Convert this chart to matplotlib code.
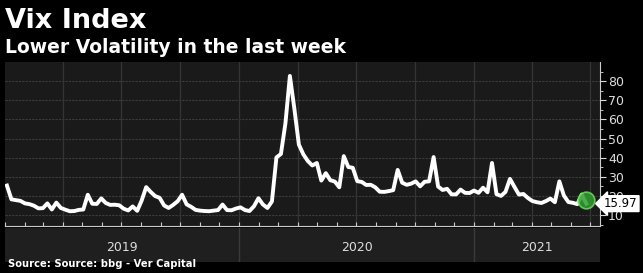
import numpy as np
import pandas as pd
import matplotlib
matplotlib.use("Agg")
import matplotlib.pyplot as plt
import matplotlib.dates as mdates

# weekly VIX readings, first Friday of 2019 onwards
vix_2019 = [25.4, 18.2, 17.8, 17.4, 16.1, 15.7, 14.9, 13.5, 13.6, 16.1, 12.9, 16.5, 13.7,
            12.8, 12.0, 12.1, 12.7, 12.9, 20.6, 15.9, 15.8, 18.7, 16.3, 15.3, 15.4, 15.1,
            13.3, 12.4, 14.5, 12.2, 17.6, 24.6, 22.1, 19.9, 19.0, 15.0, 13.7, 15.3, 17.2,
            20.6, 15.6, 14.3, 12.7, 12.3, 12.1, 12.0, 12.3, 12.6, 15.5, 12.6, 12.5, 13.4]
vix_2020 = [14.0, 12.6, 12.1, 14.6, 18.8, 15.5, 13.7, 17.1, 40.1, 41.9, 57.8, 82.7, 65.5,
            46.8, 41.7, 38.2, 35.9, 37.2, 28.0, 31.9, 28.2, 27.5, 24.5, 40.8, 35.1, 34.7,
            27.7, 27.3, 25.7, 25.8, 24.5, 22.2, 22.1, 22.5, 23.0, 33.6, 26.9, 25.8, 26.4,
            27.6, 25.0, 27.4, 27.6, 40.3, 24.9, 23.1, 23.7, 20.8, 20.8, 23.3, 21.6, 21.5]
vix_2021 = [22.8, 21.6, 24.3, 21.9, 37.2, 20.9, 20.0, 22.1, 28.9, 24.7, 20.7, 21.0, 18.9,
            17.3, 16.7, 16.3, 17.3, 18.6, 16.7, 27.6, 20.2, 16.8, 16.4, 15.7, 20.7, 15.97]

vix = vix_2019 + vix_2020 + vix_2021
fechas = pd.date_range("2019-01-04", periods=len(vix), freq="W-FRI")
ultimo = vix[-1]

anios = ["2019", "2020", "2021"]
yticks = [10, 20, 30, 40, 50, 60, 70, 80]

xmin = pd.Timestamp("2019-01-01")
xmax = pd.Timestamp("2021-07-16")

fig = plt.figure(figsize=(6.43, 2.73), dpi=100, facecolor="black")

ax = fig.add_axes([0.0078, 0.172, 0.925, 0.601], facecolor="#1a1a1a")
ax.plot(fechas, vix, color="white", lw=2.8, solid_joinstyle="round", zorder=3)
ax.plot(fechas[-1], ultimo + 2, "o", ms=12, mfc="#2f9e2f", mec="#6bdc5c", mew=1.2,
        alpha=0.85, zorder=4)
ax.set_xlim(xmin, xmax)
ax.set_ylim(4.25, 90)

# grid
for y in yticks:
    ax.axhline(y, color="#3c3c3c", lw=0.8, ls=(0, (2, 1)), zorder=1)
for q in pd.date_range("2019-04-01", xmax, freq="QS"):
    ax.axvline(q, color="#353535", lw=0.9, zorder=1)

ax.yaxis.tick_right()
ax.set_yticks(yticks)
ax.set_yticks(np.arange(5, 90, 5), minor=True)
ax.tick_params(axis="y", which="both", colors="#dddddd", labelsize=9, direction="out",
               length=4, pad=2)
ax.tick_params(axis="y", which="minor", length=2)
ax.xaxis.set_major_locator(mdates.MonthLocator())
ax.tick_params(axis="x", which="both", direction="in", length=3, colors="#cccccc",
               labelbottom=False)
for s in ["top", "left"]:
    ax.spines[s].set_visible(False)
ax.spines["right"].set_color("#cccccc")
ax.spines["bottom"].set_color("#cccccc")

ax.annotate(f"{ultimo:.2f}", xy=(1.0, ultimo), xycoords=("axes fraction", "data"),
            xytext=(3, 0), textcoords="offset points", va="center", ha="left",
            fontsize=8.5, color="black", zorder=6,
            bbox=dict(boxstyle="larrow,pad=0.12", fc="white", ec="white"))

# year band
ax2 = fig.add_axes([0.0078, 0.04, 0.925, 0.125], facecolor="#1f1f1f")
ax2.set_xlim(xmin, xmax)
ax2.set_ylim(0, 1)
for a in anios:
    ini = max(pd.Timestamp(a + "-01-01"), xmin)
    fin = min(pd.Timestamp(str(int(a) + 1) + "-01-01"), xmax)
    ax2.text(ini + (fin - ini) / 2, 0.42, a, ha="center", va="center", color="#dddddd",
             fontsize=9)
    if ini > xmin:
        ax2.axvline(ini, color="#3a3a3a", lw=1)
ax2.set_xticks([])
ax2.set_yticks([])
for s in ax2.spines.values():
    s.set_visible(False)

fig.text(0.008, 0.897, "Vix Index", color="white", fontsize=19.5, fontweight="bold",
         va="baseline", ha="left")
fig.text(0.008, 0.806, "Lower Volatility in the last week", color="white", fontsize=13.5,
         fontweight="bold", va="baseline", ha="left")
fig.text(0.012, 0.022, "Source: Source: bbg - Ver Capital", color="white", fontsize=7.2,
         fontweight="bold", va="baseline", ha="left")

fig.savefig("out.png", dpi=100, facecolor="black")
